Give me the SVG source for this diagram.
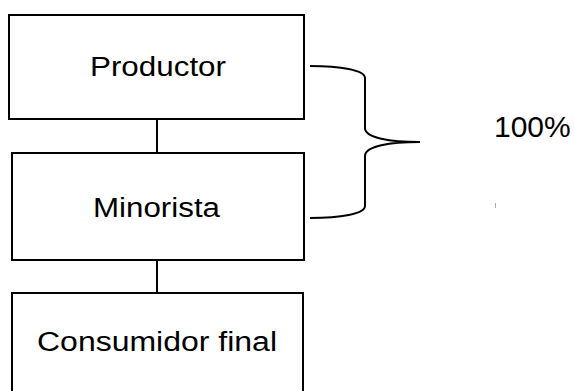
<svg xmlns="http://www.w3.org/2000/svg" width="574" height="391" viewBox="0 0 574 391">
<style>
.box{fill:#fff;stroke:#000;stroke-width:2}
.lbl{font-family:"Liberation Sans",Arial,sans-serif;font-size:27px;fill:#000}
.conn{fill:none;stroke:#000;stroke-width:2}
</style>
<rect width="574" height="391" fill="#fff"/>
<g id="connectors">
<line class="conn" x1="157" y1="119" x2="157" y2="153"/>
<line class="conn" x1="157" y1="260" x2="157" y2="293"/>
<path id="brace" class="conn" d="M310,66 C340,66 365,70 365,78 L365,128 C365,138 390,142 420,142 C390,142 365,146 365,156 L365,206 C365,214 340,218 310,218"/>
</g>
<g id="productor">
<rect class="box" x="9" y="15" width="295" height="104"/>
<text class="lbl" x="90" y="76" textLength="136" lengthAdjust="spacingAndGlyphs">Productor</text>
</g>
<g id="minorista">
<rect class="box" x="12" y="153" width="292" height="107"/>
<text class="lbl" x="93" y="217" textLength="127" lengthAdjust="spacingAndGlyphs">Minorista</text>
</g>
<g id="consumidor">
<rect class="box" x="12" y="293" width="291" height="110"/>
<text class="lbl" x="37" y="351" textLength="240" lengthAdjust="spacingAndGlyphs">Consumidor final</text>
</g>
<g id="pct">
<text x="494" y="137" style="font-family:'Liberation Sans',Arial,sans-serif;font-size:30px;fill:#000">100%</text>
</g>
<line x1="495.5" y1="203" x2="495.5" y2="208" stroke="#aaa" stroke-width="1"/>
</svg>
